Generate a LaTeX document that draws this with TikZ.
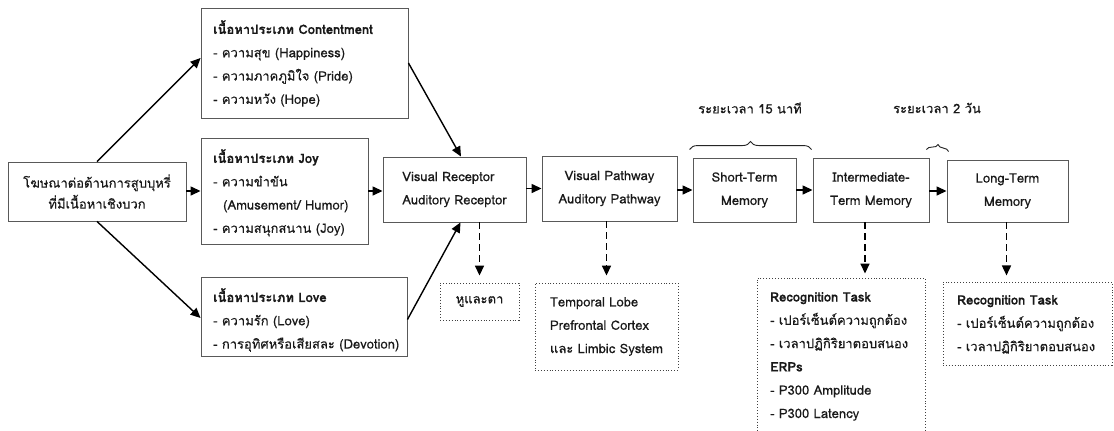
\documentclass[tikz,border=0pt]{standalone}
\usepackage{fontspec}
\setmainfont[Script=Thai,FakeBold=0.35]{Loma}
\usetikzlibrary{arrows.meta,decorations.pathreplacing,calc}
\newcommand{\hd}[1]{{\bfseries #1}}
\begin{document}
\begin{tikzpicture}[x=1pt,y=-1pt,
  every node/.style={font=\fontsize{13}{23.3}\selectfont, text=black!90},
  box/.style={draw=black!65, line width=0.9pt, rectangle, inner sep=0pt, align=center},
  dbox/.style={draw=black!75, line width=0.9pt, dotted, rectangle, inner sep=0pt, align=center},
  txt/.style={inner sep=0pt, align=left, anchor=north west},
  arr/.style={-{Triangle[length=10pt,width=9pt]}, line width=1.4pt, black},
  darr/.style={arr, dash pattern=on 7pt off 4pt, line width=1.6pt},
  brc/.style={decorate, decoration={brace, amplitude=8pt}, line width=0.9pt, black!85}]
\useasboundingbox (0,0) rectangle (1114,431);
\clip (0,0) rectangle (1114,431);
\fill[white] (0,0) rectangle (1114,431);

% boxes
\node[box, minimum width=178pt, minimum height=59pt, font=\fontsize{13}{21}\selectfont] (src) at (97,191.5)
  {โฆษณาต่อต้านการสูบบุหรี่\\ที่มีเนื้อหาเชิงบวก};
\node[box, minimum width=207pt, minimum height=110pt] (cont) at (304.5,63) {};
\node[box, minimum width=167pt, minimum height=106pt] (joy) at (284.5,191) {};
\node[box, minimum width=206pt, minimum height=79pt] (love) at (304,316.5) {};
\node[box, minimum width=143pt, minimum height=65pt, align=left] (rec) at (454.5,189.5)
  {Visual Receptor\\Auditory Receptor};
\node[box, minimum width=135pt, minimum height=65pt] (path) at (609.5,188.5)
  {Visual Pathway\\Auditory Pathway};
\node[box, minimum width=103pt, minimum height=64pt] (short) at (744.5,190)
  {Short-Term\\Memory};
\node[box, minimum width=116pt, minimum height=64pt] (inter) at (871,190)
  {Intermediate-\\Term Memory};
\node[box, minimum width=121pt, minimum height=62pt] (long) at (1007.5,191)
  {Long-Term\\Memory};

\node[dbox, minimum width=79pt, minimum height=37pt] (hut) at (479.5,301.5) {หูและตา};
\node[dbox, minimum width=143pt, minimum height=87pt, align=left] (lobe) at (606.5,326.5)
  {Temporal Lobe\\Prefrontal Cortex\\และ Limbic System};
\node[dbox, minimum width=168pt, minimum height=170pt] (rt1) at (841,363) {};
\node[dbox, minimum width=169pt, minimum height=83pt] (rt2) at (1027.5,323.5) {};

% texts in boxes
\node[txt] (cont-t) at (213,20)
  {\hd{เนื้อหาประเภท Contentment}\\- ความสุข (Happiness)\\- ความภาคภูมิใจ (Pride)\\- ความหวัง (Hope)};
\node[txt] (joy-t) at (213,149)
  {\hd{เนื้อหาประเภท Joy}\\- ความขำขัน\\\hspace*{10pt}(Amusement/ Humor)\\- ความสนุกสนาน (Joy)};
\node[txt] (love-t) at (213,288)
  {\hd{เนื้อหาประเภท Love}\\- ความรัก (Love)\\- การอุทิศหรือเสียสละ (Devotion)};
\node[txt] (rt1-t) at (770,292)
  {\hd{Recognition Task}\\- เปอร์เซ็นต์ความถูกต้อง\\- เวลาปฏิกิริยาตอบสนอง\\\hd{ERPs}\\- P300 Amplitude\\- P300 Latency};
\node[txt] (rt2-t) at (957,295)
  {\hd{Recognition Task}\\- เปอร์เซ็นต์ความถูกต้อง\\- เวลาปฏิกิริยาตอบสนอง};

% time labels and braces
\node (t15) at (750,108) {ระยะเวลา 15 นาที};
\node (t2) at (937,108) {ระยะเวลา 2 วัน};
\draw[brc] ($(short.north west)+(-3,-8)$) -- ($(inter.north west)+(-1,-8)$);
\draw[brc, decoration={brace, amplitude=6pt}] ($(inter.north east)+(-3,-8)$) -- ($(long.north west)+(2,-8)$);

% connectors
\draw[arr] (src.north) -- ($(cont.west)+(0,-5)$);
\draw[arr] (src.east |- joy.west) -- (joy.west);
\draw[arr] (src.south) -- ($(love.west)+(0,1.5)$);
\draw[arr] (cont.east) -- ($(rec.north)+(6.5,0)$);
\draw[arr] (joy.east) -- (rec.west |- joy.east);
\draw[arr] ($(love.east)+(0,3)$) -- ($(rec.south)+(6,0)$);
\draw[arr] (rec.east |- path.west) -- (path.west);
\draw[arr] (path.east |- short.west) -- (short.west);
\draw[arr] (short.east) -- (inter.west);
\draw[arr] (inter.east |- long.west) -- (long.west);

\draw[darr] (hut.north |- rec.south) -- ($(hut.north)+(0,-7)$);
\draw[darr] (lobe.north |- path.south) -- ($(lobe.north)+(0,-7)$);
\coordinate (ia) at ($(inter.south)+(-6,0)$);
\draw[darr] (ia) -- (ia |- {$(rt1.north)+(0,-4)$});
\draw[darr] ($(long.south)+(-1,0)$) -- ($(long.south)+(-1,53)$);
\end{tikzpicture}
\end{document}
